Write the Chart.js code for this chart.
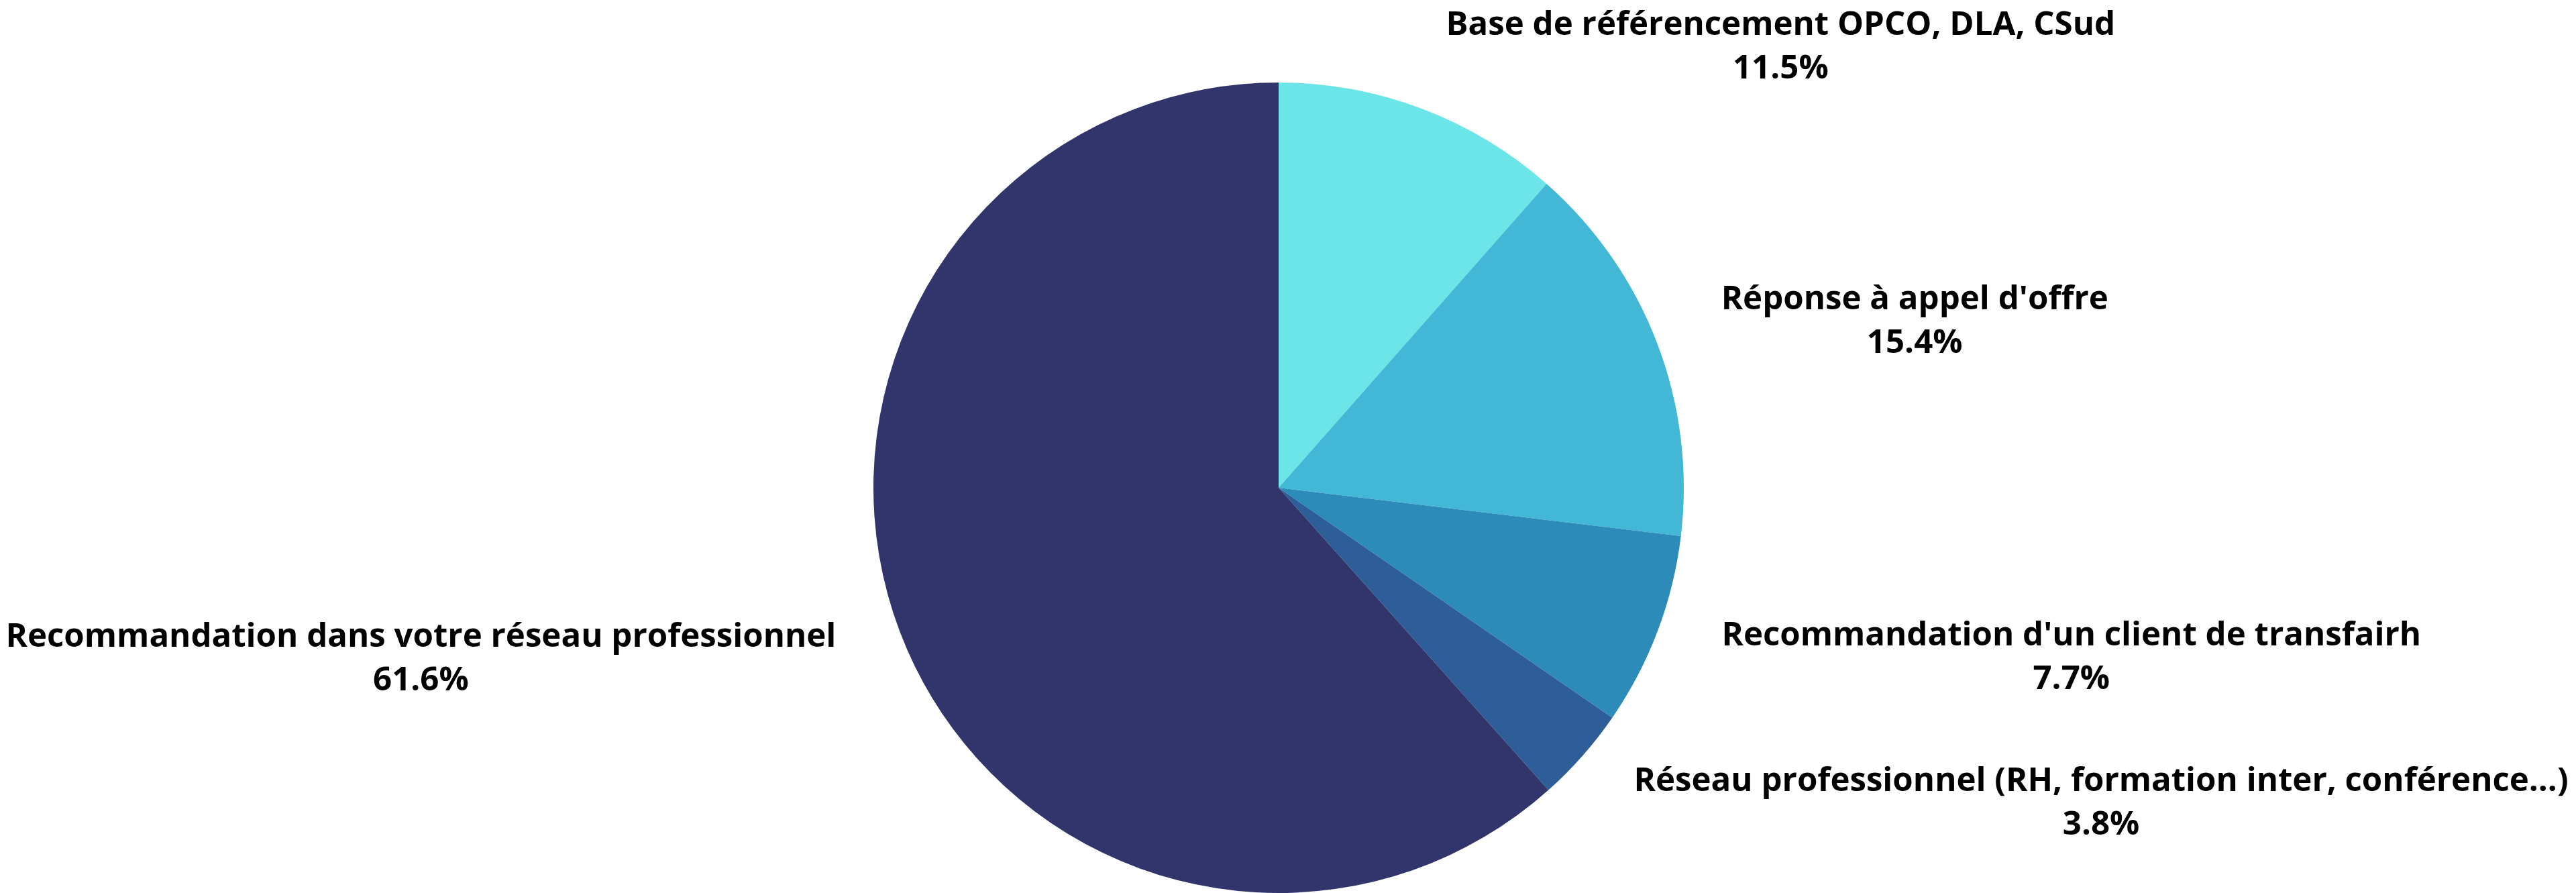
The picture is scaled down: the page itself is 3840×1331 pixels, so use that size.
<!DOCTYPE html>
<html>
<head>
<meta charset="utf-8">
<script src="https://cdn.jsdelivr.net/npm/chart.js@4"></script>
<style>
  body { margin: 0; background: #fff; }
  #wrap { width: 3840px; height: 1331px; position: relative; }
</style>
</head>
<body>
<div id="wrap"><canvas id="camembert"></canvas></div>
<script>
const categories = [
    "Base de référencement OPCO, DLA, CSud",
    "Réponse à appel d'offre",
    "Recommandation d'un client de transfairh",
    "Réseau professionnel (RH, formation inter, conférence...)",
    "Recommandation dans votre réseau professionnel"
]
const values = [11.5, 15.4, 7.7, 3.8, 61.6]
const colors = ["#6be5e8", "#42b7d6", "#2d8bba", "#2e5e98", "#31356b"]

// labels drawn outside the pie, at the middle angle of each slice
const labelsDehors = {
    id: "labelsDehors",
    afterDatasetsDraw(chart) {
        const ctx = chart.ctx
        const meta = chart.getDatasetMeta(0)
        ctx.save()
        ctx.font = "bold 49.2px 'Open Sans'"
        ctx.fillStyle = "#000"
        ctx.textBaseline = "alphabetic"
        meta.data.forEach((arc, i) => {
            const mid = (arc.startAngle + arc.endAngle) / 2
            const dist = arc.outerRadius + 102
            const px = arc.x + Math.cos(mid) * dist
            const py = arc.y + Math.sin(mid) * dist
            const txt = categories[i]
            const pct = values[i].toFixed(1) + "%"
            const w = ctx.measureText(txt).width
            let cx
            if (Math.cos(mid) >= 0) {
                ctx.textAlign = "left"
                ctx.fillText(txt, px, py - 14.5)
                cx = px + w / 2
            } else {
                ctx.textAlign = "right"
                ctx.fillText(txt, px, py - 14.5)
                cx = px - w / 2
            }
            ctx.textAlign = "center"
            ctx.fillText(pct, cx, py + 50.5)
        })
        ctx.restore()
    }
}

document.fonts.load("bold 49.2px 'Open Sans'").then(() => {
    new Chart(document.getElementById("camembert"), {
        type: "pie",
        data: {
            labels: categories,
            datasets: [{
                data: values,
                backgroundColor: colors,
                borderWidth: 0
            }]
        },
        options: {
            responsive: true,
            maintainAspectRatio: false,
            animation: false,
            layout: { padding: { top: 123, bottom: 0, left: 0, right: 28 } },
            plugins: {
                legend: { display: false },
                tooltip: { enabled: false }
            }
        },
        plugins: [labelsDehors]
    })
})
</script>
</body>
</html>
